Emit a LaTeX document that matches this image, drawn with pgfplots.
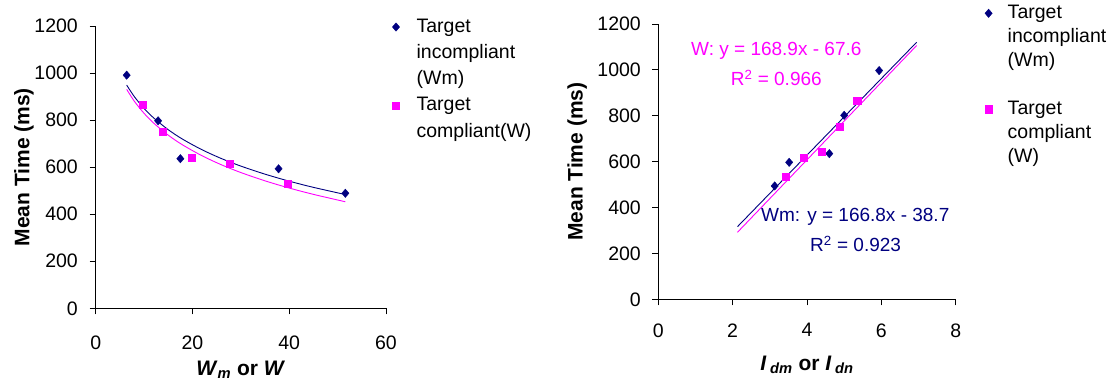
\documentclass[border=0pt]{standalone}
\usepackage{fontspec}
\setmainfont{Liberation Sans}
\usepackage{pgfplots}
\pgfplotsset{compat=1.18}
\definecolor{navyb}{RGB}{0,0,128}
\definecolor{mag}{RGB}{255,0,255}
\newcommand\tickf{\fontsize{19.5}{23}\selectfont}
\newcommand\legf{\fontsize{19.5}{23}\selectfont}
\newcommand\eqf{\fontsize{19}{23}\selectfont}
\newcommand\labf{\fontsize{21}{25}\selectfont\bfseries}
\pgfplotsset{
  common/.style={
    scale only axis,
    axis x line*=bottom, axis y line*=left,
    axis line style={black, line width=0.8pt, -},
    tick align=outside, major tick length=6pt,
    tick style={black, line width=0.8pt},
    ymin=0, ymax=1200, ytick={0,200,...,1200},
    ticklabel style={font=\tickf, inner sep=0pt},
    /pgf/number format/assume math mode=true,
    /pgf/number format/1000 sep={},
    clip=false,
    legend style={draw=none, fill=none, inner sep=0pt, outer sep=0pt,
       nodes={inner sep=0pt, text height=14pt, text depth=4pt, anchor=west, font=\legf}},
    legend image code/.code={\draw[##1] plot coordinates {(4pt,0pt)};},
  },
  diam/.style={only marks, mark=diamond*, mark size=4.2pt, color=navyb, mark options={xscale=1.15, fill=navyb, draw=navyb}},
  sq/.style={only marks, mark=square*, mark size=3.6pt, color=mag, mark options={fill=mag, draw=mag}},
}
\begin{document}
\begin{tikzpicture}
\useasboundingbox (0,0) rectangle (1112pt,381pt);
% ---------------- left chart ----------------
\begin{axis}[common,
  at={(95.7pt,72.7pt)}, anchor=south west, width=290.3pt, height=282.3pt,
  xmin=0, xmax=60, xtick={0,20,40,60},
  yticklabel shift=11.7pt, xticklabel shift=21.7pt,
  xlabel={\textit{W}\textsubscript{\textit{m}} or \textit{W}},
  ylabel={Mean Time (ms)},
  xlabel style={font=\labf, at={(axis description cs:0.5,-0.238)}, anchor=base},
  ylabel style={font=\labf, at={(axis description cs:-0.2287,0.5)}, anchor=base},
  legend style={at={(axis description cs:1.0207,1.0283)}, anchor=north west, row sep=8.25pt, column sep=17pt},
]
\addplot[diam, forget plot] coordinates {(6.4,991) (12.9,797) (17.5,636) (37.8,593) (51.6,489)};
\addplot[sq, forget plot] coordinates {(9.7,867) (13.9,749) (19.9,639) (27.7,615) (39.7,530)};
\addplot[mag, line width=0.9pt, no markers, smooth, forget plot] coordinates {
 (6.4,930.9) (8,879.8) (10,828.7) (12,787.0) (15,735.8) (18,694.1) (22,648.2)
 (26,609.9) (30,577.1) (35,541.8) (40,511.2) (45,484.3) (51.6,452.9)};
\addplot[navyb, line width=0.9pt, no markers, smooth, forget plot] coordinates {
 (6.4,949.0) (8,899.3) (10,849.5) (12,808.9) (15,759.1) (18,718.4) (22,673.7)
 (26,636.4) (30,604.5) (35,570.2) (40,540.4) (45,514.1) (51.6,483.6)};
\addlegendimage{diam}\addlegendentry{Target}
\addlegendimage{empty legend}\addlegendentry{incompliant}
\addlegendimage{empty legend}\addlegendentry{(Wm)}
\addlegendimage{sq}\addlegendentry{Target}
\addlegendimage{empty legend}\addlegendentry{compliant(W)}
\end{axis}
% ---------------- right chart ----------------
\begin{axis}[common,
  at={(658.3pt,81.7pt)}, anchor=south west, width=297.4pt, height=275.3pt,
  xmin=0, xmax=8, xtick={0,2,4,6,8},
  yticklabel shift=11.3pt, xticklabel shift=18pt,
  xlabel={\textit{I}\,\textsubscript{\textit{dm}} or \textit{I}\,\textsubscript{\textit{dn}}},
  ylabel={Mean Time (ms)},
  xlabel style={font=\labf, at={(axis description cs:0.5,-0.2568)}, anchor=base},
  ylabel style={font=\labf, at={(axis description cs:-0.2542,0.5)}, anchor=base},
  legend style={at={(axis description cs:1.0972,1.0716)}, anchor=north west, row sep=6pt, column sep=15.5pt},
]
\addplot[diam, forget plot] coordinates {(3.13,494) (3.52,597) (4.60,635) (5.00,802) (5.94,997)};
\addplot[sq, forget plot] coordinates {(3.43,533) (3.92,616) (4.39,644) (4.89,753) (5.35,866)};
\addplot[mag, line width=0.9pt, no markers, forget plot] coordinates {(2.13,292.2) (6.95,1106.3)};
\addplot[navyb, line width=0.9pt, no markers, forget plot] coordinates {(2.13,316.6) (6.95,1120.6)};
\node[anchor=base west, font=\eqf, text=mag, inner sep=0pt] at (axis cs:0.88,1060.6) {W: y = 168.9x - 67.6};
\node[anchor=base west, font=\eqf, text=mag, inner sep=0pt] at (axis cs:1.948,929.8) {R\textsuperscript{2} = 0.966};
\node[anchor=base west, font=\eqf, text=navyb, inner sep=0pt] at (axis cs:2.763,338.3) {Wm: y = 166.8x - 38.7};
\node[anchor=base west, font=\eqf, text=navyb, inner sep=0pt] at (axis cs:4.081,207.5) {R\textsuperscript{2} = 0.923};
\addlegendimage{diam}\addlegendentry{Target}
\addlegendimage{empty legend}\addlegendentry{incompliant}
\addlegendimage{empty legend}\addlegendentry{(Wm)}
\addlegendimage{empty legend}\addlegendentry{}
\addlegendimage{sq}\addlegendentry{Target}
\addlegendimage{empty legend}\addlegendentry{compliant}
\addlegendimage{empty legend}\addlegendentry{(W)}
\end{axis}
\end{tikzpicture}
\end{document}
